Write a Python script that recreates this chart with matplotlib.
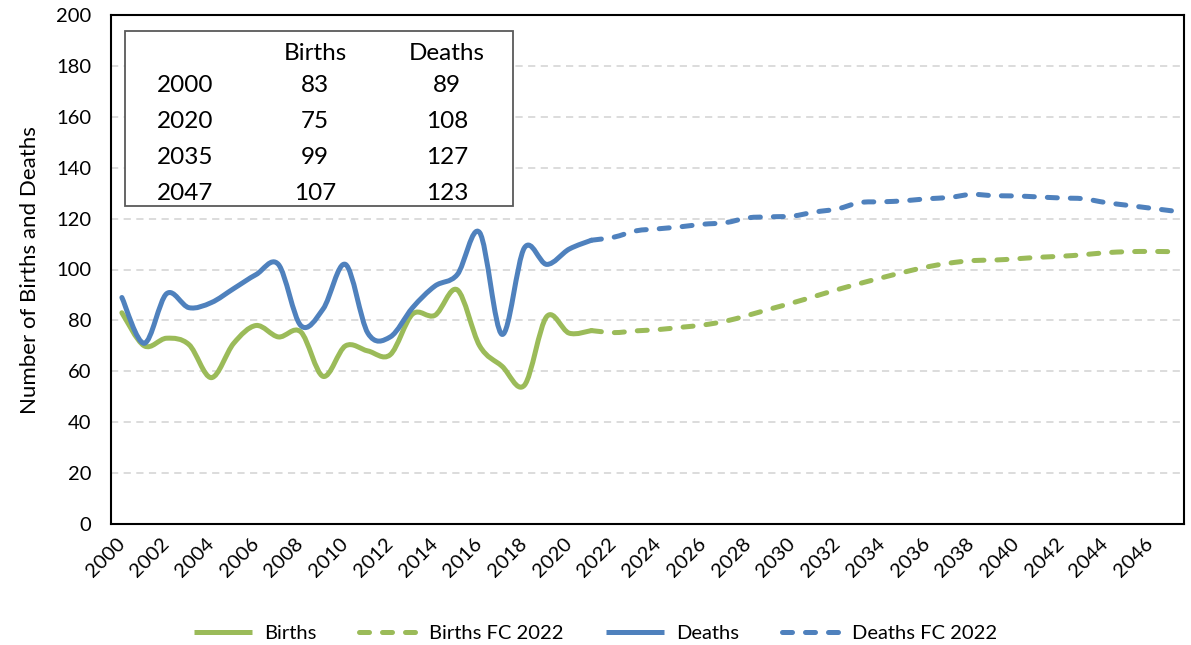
import numpy as np
import matplotlib
matplotlib.use("Agg")
import matplotlib.pyplot as plt
from matplotlib.path import Path
from matplotlib.patches import PathPatch, Rectangle
from matplotlib.lines import Line2D

plt.rcParams['font.family'] = ['Lato', 'DejaVu Sans']

# Data
years = np.arange(2000, 2022)
births = [83, 70, 73, 70.5, 57.5, 71, 78, 73.5, 75.5, 58, 70, 68, 66.5, 82.5,
          82, 92, 70, 62, 54.5, 81.5, 75, 76]
deaths = [89, 71, 90.5, 85, 87, 92.5, 98, 102, 78, 84.5, 102, 75, 73.5, 85,
          93.5, 98, 114.5, 74.5, 108.5, 102, 108, 111.5]

fc_years = np.arange(2021, 2048)
births_fc = [76, 75.2, 75.9, 76.4, 77.3, 78.2, 79.7, 82, 84.5, 86.9, 89.5,
             92.1, 94.5, 96.8, 99, 101, 102.5, 103.5, 103.7, 104.2, 104.8,
             105.2, 105.8, 106.6, 107, 107.1, 107]
deaths_fc = [111.5, 112.7, 115.2, 116, 116.8, 117.8, 118.4, 120.3, 120.7, 121,
             122.6, 123.8, 126.3, 126.6, 127, 127.8, 128.3, 129.5, 129, 128.9,
             128.5, 128.1, 127.8, 126.3, 125.2, 124.1, 123]

table_years = [2000, 2020, 2035, 2047]
table_births = [83, 75, 99, 107]
table_deaths = [89, 108, 127, 123]

GREEN = '#9BBB59'
BLUE = '#4F81BD'
LW = 3.6
DASH = (0, (2.0, 2.6))

W, H = 1191, 645


def fx(px):
    return px / W


def fy(py):
    return 1 - py / H


def smooth_path(x, y):
    # Excel-like smoothed line: Catmull-Rom segments as cubic Beziers
    pts = np.column_stack([x, y]).astype(float)
    ext = np.vstack([pts[0], pts, pts[-1]])
    verts = [pts[0]]
    codes = [Path.MOVETO]
    for i in range(len(pts) - 1):
        p0, p1, p2, p3 = ext[i], ext[i + 1], ext[i + 2], ext[i + 3]
        verts += [p1 + (p2 - p0) / 6, p2 - (p3 - p1) / 6, p2]
        codes += [Path.CURVE4] * 3
    return Path(verts, codes)


fig = plt.figure(figsize=(W / 100, H / 100), dpi=100)
ax = fig.add_axes([fx(110.7), fy(524), fx(1184 - 110.7), (524 - 15) / H])

for xs, ys, col, ls in [(years, births, GREEN, '-'),
                        (fc_years, births_fc, GREEN, DASH),
                        (years, deaths, BLUE, '-'),
                        (fc_years, deaths_fc, BLUE, DASH)]:
    patch = PathPatch(smooth_path(xs, ys), fill=False, edgecolor=col, lw=LW,
                      linestyle=ls, capstyle='round', joinstyle='round', zorder=3)
    ax.add_patch(patch)

ax.set_xlim(1999.5, 2047.5)
ax.set_ylim(0, 200)
ax.set_yticks(range(0, 201, 20))
ax.set_xticks(range(2000, 2047, 2))
ax.set_xticklabels([str(y) for y in range(2000, 2047, 2)], rotation=45,
                   ha='right', va='center', rotation_mode='anchor')
ax.tick_params(axis='both', length=0, labelsize=14.5)
ax.tick_params(axis='y', pad=14)
ax.tick_params(axis='x', pad=12)
ax.set_axisbelow(True)
ax.yaxis.grid(True, color='#D9D9D9', linewidth=1.3, linestyle=(0, (4, 3)))
for s in ax.spines.values():
    s.set_linewidth(1.5)
    s.set_color('black')

fig.text(fx(30), fy(270), 'Number of Births and Deaths', rotation=90,
         ha='center', va='center', fontsize=16)

# Summary table
ax.add_patch(Rectangle((fx(125), fy(206)), fx(513 - 125), (206 - 30.7) / H,
                       transform=fig.transFigure, facecolor='white',
                       edgecolor='#595959', lw=1.3, zorder=4, clip_on=False))
fs_tab = 17.5
fig.text(fx(315), fy(60), 'Births', ha='center', va='baseline', fontsize=fs_tab, zorder=5)
fig.text(fx(447), fy(60), 'Deaths', ha='center', va='baseline', fontsize=fs_tab, zorder=5)
for i, (yr, b, d) in enumerate(zip(table_years, table_births, table_deaths)):
    base = fy(92 + i * 36)
    fig.text(fx(157), base, str(yr), ha='left', va='baseline', fontsize=fs_tab, zorder=5)
    fig.text(fx(315), base, str(b), ha='center', va='baseline', fontsize=fs_tab, zorder=5)
    fig.text(fx(447), base, str(d), ha='center', va='baseline', fontsize=fs_tab, zorder=5)

handles = [
    Line2D([], [], color=GREEN, lw=LW, solid_capstyle='butt'),
    Line2D([], [], color=GREEN, lw=LW, linestyle=DASH, dash_capstyle='round'),
    Line2D([], [], color=BLUE, lw=LW, solid_capstyle='butt'),
    Line2D([], [], color=BLUE, lw=LW, linestyle=DASH, dash_capstyle='round'),
]
labels = ['Births', 'Births FC 2022', 'Deaths', 'Deaths FC 2022']
fig.legend(handles, labels, loc='center', bbox_to_anchor=(0.5, fy(633)),
           ncol=4, frameon=False, fontsize=14.5, handlelength=2.9,
           handletextpad=0.6, columnspacing=2.1)

fig.savefig('out.png', dpi=100)
